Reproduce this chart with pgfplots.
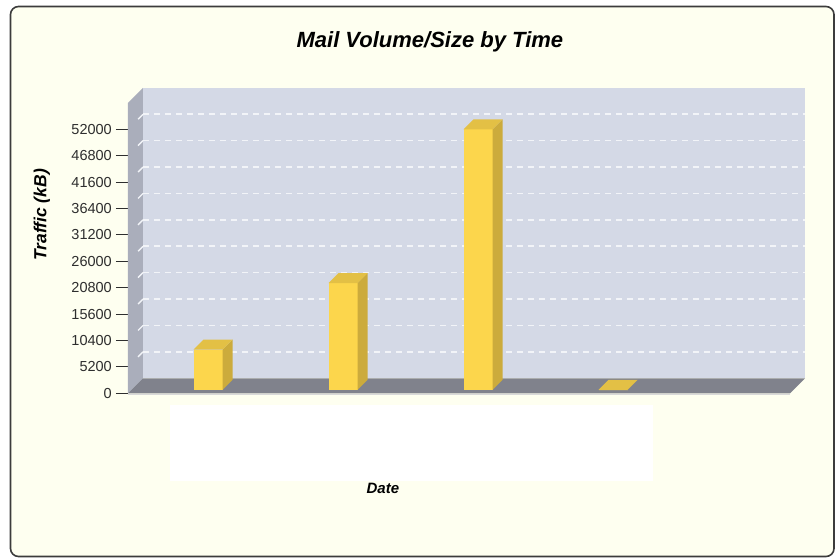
\documentclass[border=0pt]{standalone}
\usepackage{fontspec}
\setmainfont{Liberation Sans}
\usepackage{pgfplots}
\usepackage{pgfplotstable}
\pgfplotsset{compat=1.18}

\definecolor{panel}{HTML}{FEFFF0}
\definecolor{framecol}{HTML}{3C3C3C}
\definecolor{backwall}{HTML}{D4D9E6}
\definecolor{sidewall}{HTML}{AAAEBB}
\definecolor{floorcol}{HTML}{80828C}
\definecolor{gridcol}{HTML}{F2F4F8}
\definecolor{barfront}{HTML}{FCD64C}
\definecolor{bartop}{HTML}{E3C045}
\definecolor{barside}{HTML}{CCAB3C}
\definecolor{labelcol}{HTML}{2E2E2E}

% traffic per date slot (kB)
\pgfplotstableread{
slot traffic
1 7900
2 21000
3 51300
4 0
}\mailtraffic

% one extruded bar: front face, right side and lid
% (front face sits 3.5pt into the floor, bar depth 10pt, width 29pt)
\newcommand\threedbar[2]{%
  \fill[barfront] ([shift={(-11pt,3.5pt)}]axis cs:#1,0) rectangle ([shift={(18pt,3.5pt)}]axis cs:#1,#2);
  \fill[barside] ([shift={(18pt,3.5pt)}]axis cs:#1,0) -- ([shift={(28pt,13.5pt)}]axis cs:#1,0)
     -- ([shift={(28pt,13.5pt)}]axis cs:#1,#2) -- ([shift={(18pt,3.5pt)}]axis cs:#1,#2) -- cycle;
  \fill[bartop] ([shift={(-11pt,3.5pt)}]axis cs:#1,#2) -- ([shift={(18pt,3.5pt)}]axis cs:#1,#2)
     -- ([shift={(28pt,13.5pt)}]axis cs:#1,#2) -- ([shift={(-1pt,13.5pt)}]axis cs:#1,#2) -- cycle;
}

\begin{document}
\begin{tikzpicture}
\path[use as bounding box] (0pt,0pt) rectangle (836pt,560pt);
% outer panel
\draw[framecol, line width=1.6pt, fill=panel, rounded corners=8pt] (10.5pt,3.5pt) rectangle (834pt,553.5pt);
% empty date label area
\fill[white] (170pt,79pt) rectangle (653pt,155pt);

\begin{axis}[
  at={(128pt,166.7pt)}, anchor=south west,
  width=662pt, height=290.4pt, scale only axis,
  xmin=0.4333, xmax=5.337, ymin=0, ymax=57200,
  clip=false,
  axis line style={draw=none},
  xtick=\empty,
  ytick={0,5200,10400,15600,20800,26000,31200,36400,41600,46800,52000},
  ytick pos=left,
  scaled y ticks=false,
  /pgf/number format/assume math mode=true,
  /pgf/number format/1000 sep={},
  yticklabel style={font=\fontsize{14.5}{16}\selectfont, text=labelcol, inner sep=4pt},
  tick align=outside,
  major tick length=12pt,
  ytick style={draw=labelcol, line width=1pt},
  title={Mail Volume/Size by Time},
  title style={at={(0.456,1.189)}, anchor=center, font=\fontsize{22}{26}\selectfont\bfseries\itshape},
  ylabel={Traffic (kB)},
  ylabel style={at={(-0.13,0.614)}, anchor=center, font=\fontsize{17.5}{20}\selectfont\bfseries\itshape},
  xlabel={Date},
  xlabel style={at={(0.385,-0.326)}, anchor=center, font=\fontsize{15}{18}\selectfont\bfseries\itshape},
]
% walls and floor of the box
\fill[backwall] ([shift={(15pt,15pt)}]rel axis cs:0,0) rectangle ([shift={(15pt,15pt)}]rel axis cs:1,1);
\fill[sidewall] (rel axis cs:0,0) -- (rel axis cs:0,1) -- ([shift={(15pt,15pt)}]rel axis cs:0,1)
   -- ([shift={(15pt,15pt)}]rel axis cs:0,0) -- cycle;
\fill[floorcol] (rel axis cs:0,0) -- ([shift={(15pt,15pt)}]rel axis cs:0,0)
   -- ([shift={(15pt,15pt)}]rel axis cs:1,0) -- (rel axis cs:1,0) -- cycle;
\draw[gray!30, line width=1pt] ([yshift=-0.9pt]rel axis cs:0,0) -- ([yshift=-0.9pt]rel axis cs:1,0);
% dashed grid on the back wall, continued across the side wall
\pgfplotsinvokeforeach{5200,10400,15600,20800,26000,31200,36400,41600,46800,52000}{
  \draw[gridcol, line width=1.6pt, dash pattern=on 6pt off 5pt]
    ([shift={(15pt,15pt)}]axis cs:0.4333,#1) -- ([shift={(15pt,15pt)}]axis cs:5.337,#1);
  \draw[gridcol, line width=1.4pt, dash pattern=on 7pt off 20pt]
    ([shift={(15pt,15pt)}]axis cs:0.4333,#1) -- (axis cs:0.4333,#1);
}
\addplot[draw=none, mark=none, forget plot] table[x=slot, y=traffic]{\mailtraffic};
% the bars
\pgfplotsinvokeforeach{0,...,3}{%
  \pgfplotstablegetelem{#1}{slot}\of\mailtraffic\let\barx\pgfplotsretval
  \pgfplotstablegetelem{#1}{traffic}\of\mailtraffic\let\bary\pgfplotsretval
  \edef\next{\noexpand\threedbar{\barx}{\bary}}\next
}
\end{axis}
\end{tikzpicture}
\end{document}
